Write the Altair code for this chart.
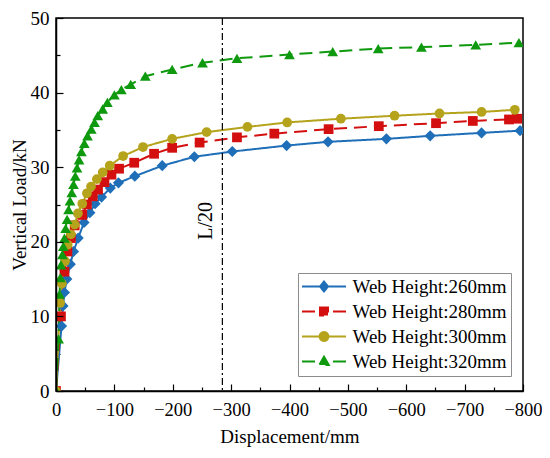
import altair as alt
import pandas as pd

FONT = "Liberation Serif"

names = ["Web Height:260mm", "Web Height:280mm", "Web Height:300mm", "Web Height:320mm"]
colors = ["#1f6fb8", "#d30f0f", "#b5a31c", "#0f990f"]
marker_shapes = ["diamond", "square", "circle", "triangle-up"]
marker_sizes = [125, 95, 95, 115]
line_dashes = [[1, 0], [13, 7], [1, 0], [13, 7]]

disp_260 = [0, -9.5, -12, -14.5, -18.5, -24.5, -30, -38, -48, -58, -67, -78, -93, -107,
            -135, -182, -237, -302, -395, -466, -566, -641, -729, -795]
load_260 = [0, 8.7, 11.4, 13.2, 15.0, 17.0, 18.7, 20.5, 22.6, 23.9, 25.1, 26.0, 27.2, 27.9,
            28.8, 30.2, 31.4, 32.1, 32.9, 33.4, 33.8, 34.2, 34.6, 34.9]

disp_280 = [0, -8.5, -14.5, -19.5, -25.5, -32, -45, -53, -63, -72, -83, -95, -108, -134,
            -168, -199, -246, -310, -374, -467, -553, -651, -714, -776, -790]
load_280 = [0, 10.0, 16.0, 18.7, 20.5, 22.2, 23.6, 25.0, 26.1, 27.0, 28.0, 29.0, 29.8, 30.6,
            31.8, 32.6, 33.3, 34.0, 34.5, 35.1, 35.5, 35.9, 36.2, 36.4, 36.5]

disp_300 = [0, -7, -10, -15.5, -20, -25.5, -32, -37.5, -45, -53, -60, -70, -80, -92,
            -115, -149, -199, -258, -328, -396, -488, -580, -657, -729, -786]
load_300 = [0, 11.8, 14.4, 17.4, 19.6, 21.0, 22.3, 23.8, 25.1, 26.5, 27.4, 28.4, 29.3, 30.2,
            31.5, 32.7, 33.8, 34.7, 35.4, 36.0, 36.5, 36.9, 37.2, 37.4, 37.7]

disp_320 = [0, -4.5, -6, -7.5, -8.5, -11, -12.5, -14.5, -16.5, -19, -21.5, -24, -27, -30,
            -33, -36, -39.5, -43.5, -48.5, -54, -60.5, -66, -71.5, -80, -88, -100, -112,
            -128, -153, -199, -251, -310, -400, -474, -552, -626, -719, -793]
load_320 = [0, 7.0, 13.0, 15.2, 16.9, 18.3, 19.4, 20.5, 21.8, 23.0, 24.3, 25.5, 26.6, 27.7,
            28.8, 29.9, 31.0, 32.1, 33.2, 34.2, 35.1, 36.0, 36.9, 37.8, 38.7, 39.7, 40.4,
            41.1, 42.2, 43.1, 44.0, 44.6, 45.1, 45.5, 45.9, 46.1, 46.4, 46.7]

x_major_ticks = [0, -100, -200, -300, -400, -500, -600, -700, -800]
x_minor_ticks = [-50, -150, -250, -350, -450, -550, -650, -750]
y_major_ticks = [0, 10, 20, 30, 40, 50]
y_minor_ticks = [5, 15, 25, 35, 45]

ref_disp = [-285]
ref_load = [22.8]
ref_text = ["L/20"]

# legend glyphs: line stub + marker (unit coordinates)
legend_symbols = [
    "M-5.5,0H-1M5.5,0H1M0,-1.25L1,0L0,1.25L-1,0Z",
    "M-5.5,0H-1M5.5,0H1M-1,-1H1V1H-1Z",
    "M-5.5,0H-1M5.5,0H1M-1.1,0A1.1,1.1,0,1,0,1.1,0A1.1,1.1,0,1,0,-1.1,0Z",
    "M-5.5,0H-1M5.5,0H1M0,-1.2L1.2,0.9H-1.2Z",
]

rows = []
for name, xs, ys in zip(names, [disp_260, disp_280, disp_300, disp_320],
                        [load_260, load_280, load_300, load_320]):
    for i, (a, b) in enumerate(zip(xs, ys)):
        rows.append({"series": name, "disp": a, "load": b, "idx": i})
df = pd.DataFrame(rows)

xscale = alt.Scale(domain=[0, -800], nice=False, zero=False)
yscale = alt.Scale(domain=[0, 50], nice=False, zero=False)

x_axis = alt.Axis(values=x_major_ticks, title="Displacement/mm", grid=False,
                  tickSize=alt.ExprRef(expr="-7"), tickWidth=1.2, labelPadding=16,
                  labelFontSize=18.5,
                  labelFlush=False, labelOverlap=False, domainWidth=1.5,
                  titlePadding=9, orient="bottom", zindex=1)
y_axis = alt.Axis(values=y_major_ticks, title="Vertical Load/kN", grid=False,
                  tickSize=alt.ExprRef(expr="-7"), tickWidth=1.2, labelPadding=14,
                  labelFlush=False, labelOverlap=False, domainWidth=1.5,
                  titlePadding=1, orient="left", zindex=1)

X = alt.X("disp:Q", scale=xscale, axis=x_axis)
Y = alt.Y("load:Q", scale=yscale, axis=y_axis)

base = alt.Chart(df)
layers = []
for name, c, dash in zip(names, colors, line_dashes):
    layers.append(
        base.transform_filter(alt.datum.series == name)
        .mark_line(color=c, strokeDash=dash, strokeWidth=2, clip=True)
        .encode(x=X, y=Y, order="idx:Q")
    )
for name, c, shp, sz in zip(names, colors, marker_shapes, marker_sizes):
    layers.append(
        base.transform_filter(alt.datum.series == name)
        .mark_point(shape=shp, filled=True, size=sz, color=c, opacity=1, clip=True)
        .encode(x=X, y=Y)
    )

ref_df = pd.DataFrame({"disp": ref_disp, "load": ref_load, "label": ref_text})
vline = alt.Chart(ref_df).mark_rule(color="black", strokeWidth=1.2,
                                    strokeDash=[7, 3, 2, 3]).encode(x=X)
vtext = alt.Chart(ref_df).mark_text(angle=270, baseline="bottom", align="center", dy=-6,
                                    font=FONT, fontSize=20, color="black").encode(
    x=X, y=Y, text="label:N")
layers += [vline, vtext]

legend = alt.Legend(title=None, orient="none", legendX=242, legendY=255, direction="vertical",
                    labelFont=FONT, labelFontSize=19, labelColor="black", labelLimit=0,
                    symbolSize=64, symbolStrokeWidth=2, symbolOffset=12.5, labelOffset=19,
                    padding=4, rowPadding=5, strokeColor="#8c8c8c", fillColor="white",
                    cornerRadius=0, symbolOpacity=1)

leg = base.transform_filter("false").mark_point(filled=True, size=64, strokeWidth=2).encode(
    x=X, y=Y,
    fill=alt.Fill("series:N", scale=alt.Scale(domain=names, range=colors), legend=legend),
    stroke=alt.Stroke("series:N", scale=alt.Scale(domain=names, range=colors), legend=legend),
    shape=alt.Shape("series:N", scale=alt.Scale(domain=names, range=legend_symbols), legend=legend),
    strokeDash=alt.StrokeDash("series:N", scale=alt.Scale(domain=names, range=line_dashes),
                              legend=legend),
)
layers.append(leg)

main = alt.layer(*layers)

minor = base.mark_point(opacity=0).encode(
    x=alt.X("disp:Q", scale=xscale,
            axis=alt.Axis(values=x_minor_ticks, title=None, labels=False, domain=False,
                          grid=False, tickSize=alt.ExprRef(expr="-4"), tickWidth=1.2,
                          orient="bottom")),
    y=alt.Y("load:Q", scale=yscale,
            axis=alt.Axis(values=y_minor_ticks, title=None, labels=False, domain=False,
                          grid=False, tickSize=alt.ExprRef(expr="-4"), tickWidth=1.2,
                          orient="left")),
)

chart = alt.layer(main, minor).resolve_scale(x="independent", y="independent").resolve_axis(
    x="independent", y="independent"
).properties(
    width=467, height=373,
    padding={"left": 48, "top": 10, "right": 19, "bottom": 58},
    autosize=alt.AutoSizeParams(type="none"),
).configure_view(stroke="black", strokeWidth=1.5).configure_axis(
    labelFont=FONT, titleFont=FONT, labelFontSize=19, titleFontSize=19,
    titleFontWeight="normal", labelColor="black", titleColor="black",
    domainColor="black", tickColor="black",
)

chart.save("out.html", embed_options={"renderer": "svg", "actions": False})
